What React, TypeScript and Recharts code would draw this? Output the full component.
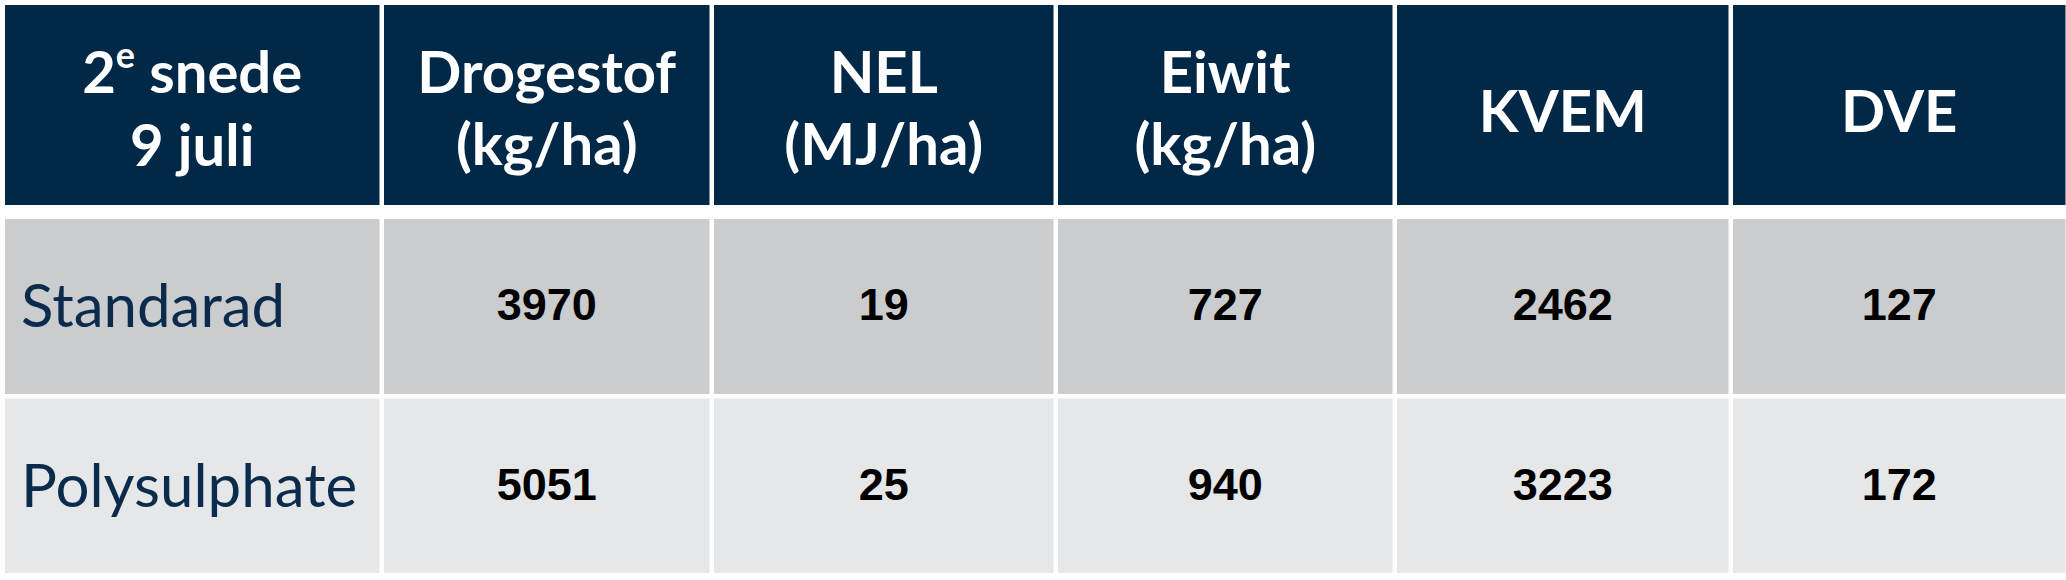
import React from 'react'
import { BarChart, Bar, XAxis, YAxis } from 'recharts'

// table content
const CUT_NUMBER = '2'
const CUT_SUPER = 'e'
const CUT_REST = ' snede'
const CUT_DATE = '9 juli'
const MEASURES = ['Drogestof', 'NEL', 'Eiwit', 'KVEM', 'DVE']
const UNITS = ['(kg/ha)', '(MJ/ha)', '(kg/ha)', '', '']
const TREATMENTS = ['Standarad', 'Polysulphate']
const STANDARAD = [3970, 19, 727, 2462, 127]
const POLYSULPHATE = [5051, 25, 940, 3223, 172]

// layout (relative column widths, not data)
const COL_WEIGHTS = [379, 330, 344, 339, 336, 337]
const TOTAL = COL_WEIGHTS.reduce((a, b) => a + b, 0)
const GAP = 4.5

const HEADER_BG = '#022848'
const ROW_BG = ['#cbccce', '#e6e7e9']
const LABEL_COLOR = '#0b2b4c'
const HEAD_FONT = 'Lato, "Open Sans", sans-serif'
const NUM_FONT = '"Liberation Sans", Arial, sans-serif'
const HEAD_SIZE = 58

const VALUES = [STANDARAD, POLYSULPHATE]

const weightsRow = (name: string) => {
  const row: Record<string, any> = { name }
  COL_WEIGHTS.forEach((w, i) => {
    row[`c${i}`] = w
  })
  return row
}

const headerData = [weightsRow('header')]
const bodyData = TREATMENTS.map(t => weightsRow(t))

const headText = (x: number, y: number, children: React.ReactNode) => (
  <text x={x} y={y} textAnchor="middle" fontFamily={HEAD_FONT} fontWeight={700} fontSize={HEAD_SIZE} fill="#fff">
    {children}
  </text>
)

const headerCell = (col: number) => (props: any) => {
  const { x, y, width, height } = props
  const w = width - GAP
  const cx = x + w / 2
  const cy = y + height / 2
  let content: React.ReactNode
  if (col === 0) {
    content = (
      <>
        {headText(cx, cy - 12, (
          <>
            <tspan>{CUT_NUMBER}</tspan>
            <tspan fontSize={36} dy={-25}>{CUT_SUPER}</tspan>
            <tspan dy={25}>{CUT_REST}</tspan>
          </>
        ))}
        {headText(cx, cy + 61, CUT_DATE)}
      </>
    )
  } else {
    const unit = UNITS[col - 1]
    content = unit ? (
      <>
        {headText(cx, cy - 12, MEASURES[col - 1])}
        {headText(cx, cy + 60, unit)}
      </>
    ) : (
      headText(cx, cy + 27, MEASURES[col - 1])
    )
  }
  return (
    <g>
      <rect x={x} y={y} width={w} height={height} fill={HEADER_BG} />
      {content}
    </g>
  )
}

const bodyCell = (col: number) => (props: any) => {
  const { x, y, width, height, index } = props
  const w = width - GAP
  const top = y + 5
  const h = height - 5
  const cy = top + h / 2
  return (
    <g>
      <rect x={x} y={top} width={w} height={h} fill={ROW_BG[index]} />
      {col === 0 ? (
        <text x={x + 16} y={cy + 20.5} fontFamily={HEAD_FONT} fontSize={60} fill={LABEL_COLOR}>
          {TREATMENTS[index]}
        </text>
      ) : (
        <text x={x + w / 2} y={cy + 13.5} textAnchor="middle" fontFamily={NUM_FONT} fontWeight={700} fontSize={45} fill="#000">
          {VALUES[index][col - 1]}
        </text>
      )}
    </g>
  )
}

export default function App() {
  return (
    <div style={{ position: 'absolute', left: 0, top: 0, width: 2066, height: 580, background: '#fff', overflow: 'hidden' }}>
      <div style={{ position: 'absolute', left: 0, top: 0 }}>
        <BarChart width={2070} height={205} data={headerData} layout="vertical" margin={{ top: 5, right: 0, bottom: 0, left: 5 }} barCategoryGap={0} barGap={0}>
          <XAxis type="number" domain={[0, TOTAL]} hide />
          <YAxis type="category" dataKey="name" hide />
          {COL_WEIGHTS.map((_, i) => (
            <Bar key={i} dataKey={`c${i}`} stackId="t" isAnimationActive={false} shape={headerCell(i)} />
          ))}
        </BarChart>
      </div>
      <div style={{ position: 'absolute', left: 0, top: 214 }}>
        <BarChart width={2070} height={359} data={bodyData} layout="vertical" margin={{ top: 0, right: 0, bottom: 0, left: 5 }} barCategoryGap={0} barGap={0}>
          <XAxis type="number" domain={[0, TOTAL]} hide />
          <YAxis type="category" dataKey="name" hide />
          {COL_WEIGHTS.map((_, i) => (
            <Bar key={i} dataKey={`c${i}`} stackId="t" isAnimationActive={false} shape={bodyCell(i)} />
          ))}
        </BarChart>
      </div>
    </div>
  )
}
